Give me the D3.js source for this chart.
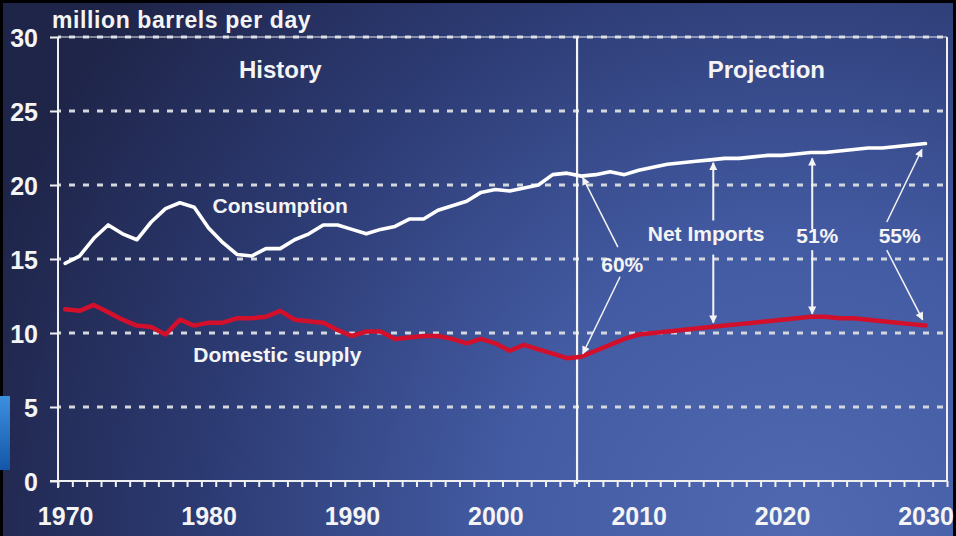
<!DOCTYPE html>
<html>
<head>
<meta charset="utf-8">
<script src="https://cdn.jsdelivr.net/npm/d3@7"></script>
<style>
  html, body { margin: 0; padding: 0; background: #000; }
  svg { display: block; }
  text { font-family: "Liberation Sans", Arial, Helvetica, sans-serif; font-weight: bold; fill: #f4f4f4; }
</style>
</head>
<body>
<svg id="chart" width="956" height="536"></svg>
<script>
// ---------- data ----------
const years = d3.range(1970, 2031);
const consumption = [
  14.7, 15.2, 16.4, 17.3, 16.7, 16.3, 17.5, 18.4, 18.8, 18.5,
  17.1, 16.1, 15.3, 15.2, 15.7, 15.7, 16.3, 16.7, 17.3, 17.3,
  17.0, 16.7, 17.0, 17.2, 17.7, 17.7, 18.3, 18.6, 18.9, 19.5,
  19.7, 19.6, 19.8, 20.0, 20.7, 20.8, 20.6, 20.7, 20.9, 20.7,
  21.0, 21.2, 21.4, 21.5, 21.6, 21.7, 21.8, 21.8, 21.9, 22.0,
  22.0, 22.1, 22.2, 22.2, 22.3, 22.4, 22.5, 22.5, 22.6, 22.7,
  22.8
];
const domesticSupply = [
  11.6, 11.5, 11.9, 11.4, 10.9, 10.5, 10.4, 9.9, 10.9, 10.5,
  10.7, 10.7, 11.0, 11.0, 11.1, 11.5, 10.9, 10.8, 10.7, 10.2,
  9.8, 10.1, 10.1, 9.6, 9.7, 9.8, 9.8, 9.6, 9.3, 9.6,
  9.3, 8.8, 9.2, 8.9, 8.6, 8.3, 8.4, 8.8, 9.2, 9.6,
  9.9, 10.0, 10.1, 10.2, 10.3, 10.4, 10.5, 10.6, 10.7, 10.8,
  10.9, 11.0, 11.1, 11.1, 11.0, 11.0, 10.9, 10.8, 10.7, 10.6,
  10.5
];
const yTicks = [0, 5, 10, 15, 20, 25, 30];
const xTickLabels = [1970, 1980, 1990, 2000, 2010, 2020, 2030];
const dividerYear = 2005.7;
const periodLabels = [
  { text: "History", year: 1985.0, value: 27.2 },
  { text: "Projection", year: 2018.9, value: 27.2 }
];
const seriesLabels = [
  { text: "Consumption", year: 1985.0, value: 18.1 },
  { text: "Domestic supply", year: 1984.8, value: 8.05 }
];
const annotationLabels = [
  { text: "60%", year: 2008.85, value: 14.1 },
  { text: "Net Imports", year: 2014.7, value: 16.2 },
  { text: "51%", year: 2022.45, value: 16.1 },
  { text: "55%", year: 2028.2, value: 16.1 }
];
// arrows: [fromYear, fromValue, toYear, toValue]
const arrows = [
  [2008.55, 15.8, 2006.1, 20.5],
  [2008.7, 13.8, 2006.1, 8.6],
  [2015.2, 17.6, 2015.2, 21.5],
  [2015.2, 15.3, 2015.2, 10.7],
  [2022.1, 17.0, 2022.1, 21.8],
  [2022.1, 15.6, 2022.1, 11.3],
  [2027.3, 17.5, 2029.75, 22.4],
  [2027.3, 15.6, 2029.8, 10.9]
];
const yTitle = "million barrels per day";

// ---------- layout ----------
const W = 956, H = 536;
const svg = d3.select("#chart");
const x = d3.scaleLinear().domain([1969.5, 2031.5]).range([58, 947]);
const y = d3.scaleLinear().domain([0, 30]).range([481, 37]);

const defs = svg.append("defs");
const bg = defs.append("radialGradient").attr("id", "bg")
  .attr("gradientUnits", "userSpaceOnUse")
  .attr("cx", 800).attr("cy", 540).attr("r", 860)
  .attr("fx", 800).attr("fy", 540);
bg.append("stop").attr("offset", 0).attr("stop-color", "#5069b0");
bg.append("stop").attr("offset", 0.35).attr("stop-color", "#435ba3");
bg.append("stop").attr("offset", 0.7).attr("stop-color", "#2c3a72");
bg.append("stop").attr("offset", 1).attr("stop-color", "#1f2549");

const strip = defs.append("linearGradient").attr("id", "strip")
  .attr("x1", 0).attr("x2", 0).attr("y1", 0).attr("y2", 1);
strip.append("stop").attr("offset", 0).attr("stop-color", "#3d8fe0");
strip.append("stop").attr("offset", 1).attr("stop-color", "#1456a8");

defs.append("marker").attr("id", "ah")
  .attr("viewBox", "0 0 10 10").attr("refX", 9).attr("refY", 5)
  .attr("markerWidth", 10).attr("markerHeight", 8)
  .attr("markerUnits", "userSpaceOnUse")
  .attr("orient", "auto")
  .append("path").attr("d", "M0,0 L10,5 L0,10 Z").attr("fill", "#f4f4f4");

// background
svg.append("rect").attr("width", W).attr("height", H).attr("fill", "#000");
svg.append("rect").attr("x", 3).attr("y", 3).attr("width", W - 6).attr("height", H - 3).attr("fill", "url(#bg)");
svg.append("rect").attr("x", 0).attr("y", 396).attr("width", 10).attr("height", 74).attr("fill", "url(#strip)");

// dashed gridlines
const grid = svg.append("g");
grid.selectAll("line").data(yTicks.filter(d => d > 0)).join("line")
  .attr("x1", x.range()[0]).attr("x2", x.range()[1])
  .attr("y1", d => y(d)).attr("y2", d => y(d))
  .attr("stroke", "#d4d7de").attr("stroke-width", 3)
  .attr("stroke-dasharray", "6 8").attr("stroke-dashoffset", 3);
svg.append("line")
  .attr("x1", x.range()[0]).attr("x2", x.range()[1])
  .attr("y1", y(30)).attr("y2", y(30))
  .attr("stroke", "#e6e8ee").attr("stroke-width", 1.2);

// y axis
const yAxis = d3.axisLeft(y).tickValues(yTicks).tickSize(8).tickPadding(12);
const gy = svg.append("g").attr("transform", `translate(${x.range()[0]},0)`).call(yAxis);
gy.select(".domain").remove();
gy.selectAll(".tick line").attr("stroke", "#f0f0f0").attr("stroke-width", 2);
gy.selectAll(".tick text").attr("font-size", 25).attr("dy", "0.36em")
  .attr("fill", "#f4f4f4").attr("font-family", "Liberation Sans, Arial, sans-serif");
svg.append("line").attr("x1", x.range()[0]).attr("x2", x.range()[0])
  .attr("y1", y(30)).attr("y2", y(0) + 7)
  .attr("stroke", "#f0f0f0").attr("stroke-width", 2);
// right frame
svg.append("line").attr("x1", x.range()[1]).attr("x2", x.range()[1])
  .attr("y1", y(30)).attr("y2", y(0))
  .attr("stroke", "#f0f0f0").attr("stroke-width", 2);

// x axis: minor ticks between years, labels at decades
const minorTicks = d3.range(1969.5, 2032, 1);
const xAxisTicks = d3.axisBottom(x).tickValues(minorTicks).tickSize(6).tickFormat("");
const gxt = svg.append("g").attr("transform", `translate(0,${y(0)})`).call(xAxisTicks);
gxt.select(".domain").remove();
gxt.selectAll(".tick line").attr("stroke", "#f0f0f0").attr("stroke-width", 2);
const xAxisLabels = d3.axisBottom(x).tickValues(xTickLabels).tickSize(0).tickPadding(35).tickFormat(d3.format("d"));
const gxl = svg.append("g").attr("transform", `translate(0,${y(0)})`).call(xAxisLabels);
gxl.select(".domain").remove();
gxl.selectAll(".tick text").attr("font-size", 25).attr("dy", "0.36em")
  .attr("fill", "#f4f4f4").attr("font-family", "Liberation Sans, Arial, sans-serif");
svg.append("line").attr("x1", x.range()[0] - 8).attr("x2", x.range()[1])
  .attr("y1", y(0)).attr("y2", y(0))
  .attr("stroke", "#f0f0f0").attr("stroke-width", 2);

// divider
svg.append("line").attr("x1", x(dividerYear)).attr("x2", x(dividerYear))
  .attr("y1", y(30)).attr("y2", y(0) + 3)
  .attr("stroke", "#f4f4f4").attr("stroke-width", 2.2);

// lines
const line = d3.line().x((d, i) => x(years[i])).y(d => y(d)).curve(d3.curveLinear);
svg.append("path").datum(domesticSupply).attr("d", line)
  .attr("fill", "none").attr("stroke", "#d3102c").attr("stroke-width", 4.5)
  .attr("stroke-linejoin", "round").attr("stroke-linecap", "round");
svg.append("path").datum(consumption).attr("d", line)
  .attr("fill", "none").attr("stroke", "#ffffff").attr("stroke-width", 3.6)
  .attr("stroke-linejoin", "round").attr("stroke-linecap", "round");

// arrows
svg.append("g").selectAll("line").data(arrows).join("line")
  .attr("x1", d => x(d[0])).attr("y1", d => y(d[1]))
  .attr("x2", d => x(d[2])).attr("y2", d => y(d[3]))
  .attr("stroke", "#f4f4f4").attr("stroke-width", (d, i) => (i >= 2 && i <= 5) ? 2 : 1.5)
  .attr("marker-end", "url(#ah)");

// texts
svg.append("text").attr("x", 52).attr("y", 28).attr("font-size", 23)
  .attr("letter-spacing", 0.6).text(yTitle);
svg.append("g").selectAll("text").data(periodLabels).join("text")
  .attr("x", d => x(d.year)).attr("y", d => y(d.value))
  .attr("text-anchor", "middle").attr("font-size", 24).text(d => d.text);
svg.append("g").selectAll("text").data(seriesLabels).join("text")
  .attr("x", d => x(d.year)).attr("y", d => y(d.value))
  .attr("text-anchor", "middle").attr("font-size", 21).text(d => d.text);
svg.append("g").selectAll("text").data(annotationLabels).join("text")
  .attr("x", d => x(d.year)).attr("y", d => y(d.value))
  .attr("text-anchor", "middle").attr("font-size", 21).text(d => d.text);
</script>
</body>
</html>
